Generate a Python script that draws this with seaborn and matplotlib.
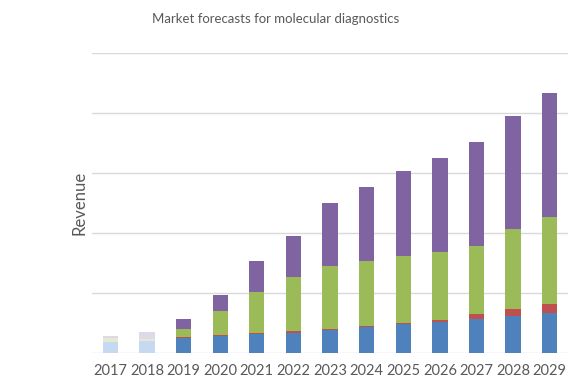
import pandas as pd
import seaborn as sns
import matplotlib.pyplot as plt

# values (one gridline = 1 unit)
years = ["2017", "2018", "2019", "2020", "2021", "2022", "2023",
         "2024", "2025", "2026", "2027", "2028", "2029"]
blue = [0.18, 0.20, 0.25, 0.28, 0.31, 0.34, 0.38, 0.43, 0.48, 0.51, 0.56, 0.61, 0.66]
red = [0.00, 0.00, 0.02, 0.02, 0.02, 0.03, 0.02, 0.02, 0.02, 0.04, 0.09, 0.12, 0.16]
green = [0.07, 0.03, 0.13, 0.40, 0.69, 0.90, 1.05, 1.09, 1.12, 1.14, 1.14, 1.34, 1.44]
purple = [0.03, 0.12, 0.17, 0.27, 0.52, 0.68, 1.05, 1.23, 1.41, 1.57, 1.73, 1.88, 2.07]

n_faded = 2  # 2017 and 2018 are drawn washed out

segments = [
    (blue, "#4f81bd", "#c6d9f1"),
    (red, "#c0504d", "#f2dcdb"),
    (green, "#9bbb59", "#e2ebcf"),
    (purple, "#8064a2", "#dfd9e7"),
]

sns.set_style("white")
plt.rcParams["font.family"] = ["Lato", "DejaVu Sans"]

fig = plt.figure(figsize=(5.79, 3.85), dpi=100)
ax = fig.add_axes([0.159, 0.083, 0.822, 0.779])

df = pd.DataFrame({"year": years})
bottom = [0.0] * len(years)
for vals, dark, light in segments:
    df["value"] = vals
    sns.barplot(data=df, x="year", y="value", order=years, color=dark,
                bottom=bottom, width=0.42, saturation=1, linewidth=0,
                ax=ax, zorder=3)
    new_bars = ax.patches[-len(years):]
    for bar in new_bars[:n_faded]:
        bar.set_facecolor(light)
    bottom = [b + v for b, v in zip(bottom, vals)]

ax.set_ylim(0, 5)
ax.set_xlim(-0.5, len(years) - 0.5)
ax.set_yticks([0, 1, 2, 3, 4, 5])
ax.set_yticklabels([])
ax.yaxis.grid(True, color="#d9d9d9", linewidth=1)
ax.tick_params(axis="both", length=0)
ax.tick_params(axis="x", labelsize=10.5, labelcolor="#595959", pad=8)
for s in ["top", "right", "left", "bottom"]:
    ax.spines[s].set_visible(False)

ax.set_xlabel("")
ax.set_ylabel("Revenue", fontsize=12, color="#595959", labelpad=0)
ax.set_title("Market forecasts for molecular diagnostics", fontsize=9.5,
             color="#595959", pad=22, x=0.385)

fig.savefig("out.png", dpi=100)
